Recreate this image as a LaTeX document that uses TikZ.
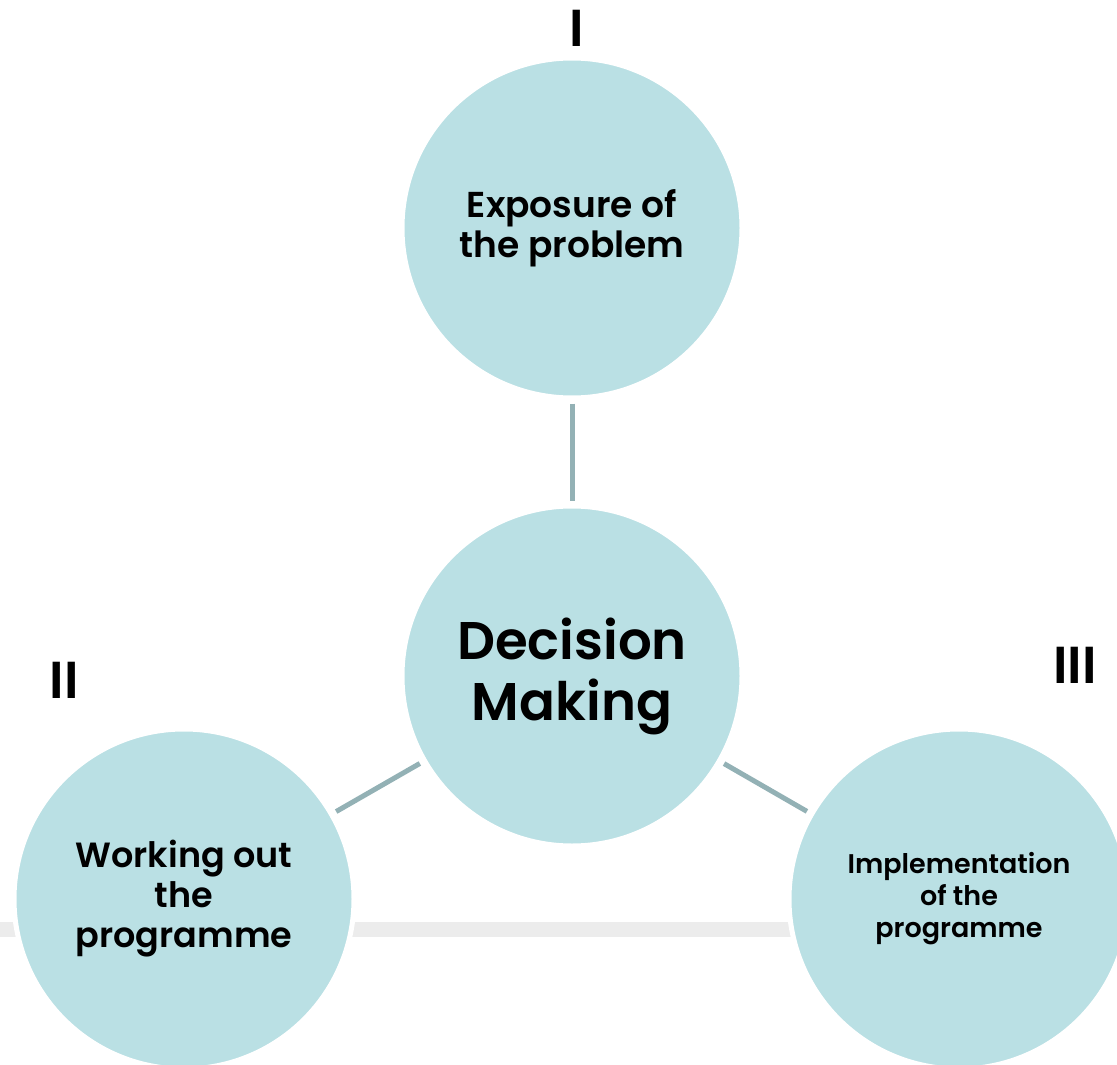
\documentclass[tikz,border=0pt]{standalone}
\usepackage{fontspec}
\setmainfont{Poppins}[BoldFont={* SemiBold}]
\definecolor{circfill}{HTML}{BAE0E4}
\definecolor{linkc}{HTML}{93B1B5}
\definecolor{barc}{HTML}{ECECEC}
\tikzset{
  bubble/.style={circle, fill=circfill, draw=white, line width=5pt, minimum size=340pt, inner sep=0pt, align=center},
  link/.style={draw=linkc, line width=5pt, shorten <=3pt, shorten >=3pt},
  roman/.style={font=\fontsize{52}{52}\selectfont\bfseries, inner sep=0pt}
}
\begin{document}
\begin{tikzpicture}[x=1pt,y=-1pt]
\useasboundingbox (0,0) rectangle (1117,1065);
\begin{scope}
\clip (0,0) rectangle (1117,1065);
\fill[barc] (0,922) rectangle (900,937);
\node[bubble, font=\fontsize{36}{40}\selectfont\bfseries] (top) at (572,228) {Exposure of\\the problem};
\node[bubble, font=\fontsize{53}{61}\selectfont\bfseries] (mid) at (572,676) {Decision\\Making};
\node[bubble, font=\fontsize{35}{40}\selectfont\bfseries] (left) at (184,899) {Working out\\the\\programme};
\node[bubble, font=\fontsize{27}{32}\selectfont\bfseries] (right) at (959,899) {Implementation\\of the\\programme};
\end{scope}
\draw[link] (top) -- (mid);
\draw[link] (mid) -- (left);
\draw[link] (mid) -- (right);
\node[roman] (r1) at (577,28) {I};
\node[roman] (r2) at (64,680) {II};
\node[roman] (r3) at (1075,665) {III};
\end{tikzpicture}
\end{document}
